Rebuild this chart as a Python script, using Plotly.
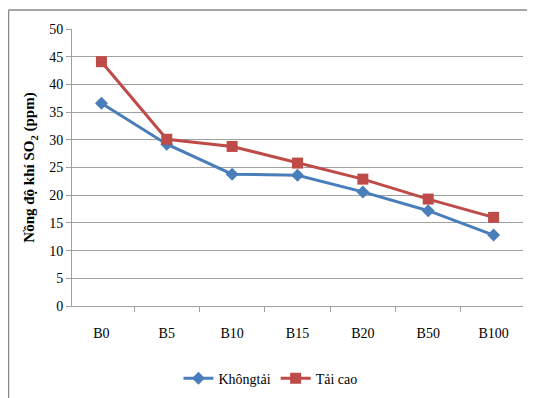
import plotly.graph_objects as go

categories = ["B0", "B5", "B10", "B15", "B20", "B50", "B100"]
khong_tai = [36.6, 29.2, 23.8, 23.6, 20.6, 17.2, 12.8]
tai_cao = [44.1, 30.1, 28.8, 25.8, 22.9, 19.3, 16.0]
y_ticks = [0, 5, 10, 15, 20, 25, 30, 35, 40, 45, 50]

# page body has an 8px margin, so the figure is drawn 8px right/down
OFF = 8
W, H = 535 - OFF, 398 - OFF
L, T = 72 - OFF, 29 - OFF
pw, ph = 451, 277
R = W - L - pw
B = H - T - ph

def px(x):
    return (x - OFF - L) / pw

def py(y):
    return (T + ph - (y - OFF)) / ph

fig = go.Figure()
fig.add_trace(go.Scatter(
    x=categories, y=khong_tai, name="Khôngtải", mode="lines+markers",
    line=dict(color="#4A7EBB", width=3),
    marker=dict(symbol="diamond", size=10, color="#4A7EBB"),
))
fig.add_trace(go.Scatter(
    x=categories, y=tai_cao, name="Tải cao", mode="lines+markers",
    line=dict(color="#BE4B48", width=3),
    marker=dict(symbol="square", size=11, color="#BE4B48"),
))

font = "Liberation Serif, serif"
fig.update_layout(
    width=W, height=H,
    margin=dict(l=L, r=R, t=T, b=B, autoexpand=False),
    plot_bgcolor="white", paper_bgcolor="white",
    font=dict(family=font, size=14, color="#000000"),
    showlegend=True,
    legend=dict(orientation="h", x=0.44, xanchor="center", y=-0.262, yanchor="middle",
                font=dict(family=font, size=14, color="#000000"), itemwidth=30, tracegroupgap=0),
    xaxis=dict(
        automargin=False,
        tickson="boundaries", ticks="outside", ticklen=5, tickcolor="#A0A0A0",
        showline=True, linecolor="#A0A0A0", linewidth=1, showgrid=False,
        tickfont=dict(family=font, size=14, color="#000000"), ticklabelstandoff=14,
    ),
    yaxis=dict(
        automargin=False,
        range=[0, 50], tickvals=y_ticks, ticks="outside", ticklen=5, tickcolor="#A0A0A0",
        showline=True, linecolor="#A0A0A0", linewidth=1,
        showgrid=True, gridcolor="#A0A0A0", gridwidth=1, zeroline=False,
        tickfont=dict(family=font, size=14, color="#000000"),
        title=dict(text="<b>Nồng độ khí SO<sub>2</sub> (ppm)</b>",
                   font=dict(family=font, size=15, color="#000000"), standoff=10),
    ),
    shapes=[
        dict(type="line", xref="paper", yref="paper", x0=px(8.5), y0=py(10), x1=px(545), y1=py(10),
             line=dict(color="#888888", width=1.5)),
        dict(type="line", xref="paper", yref="paper", x0=px(8.5), y0=py(10), x1=px(8.5), y1=py(410),
             line=dict(color="#888888", width=1.5)),
    ],
)

fig.write_html("out.html")
